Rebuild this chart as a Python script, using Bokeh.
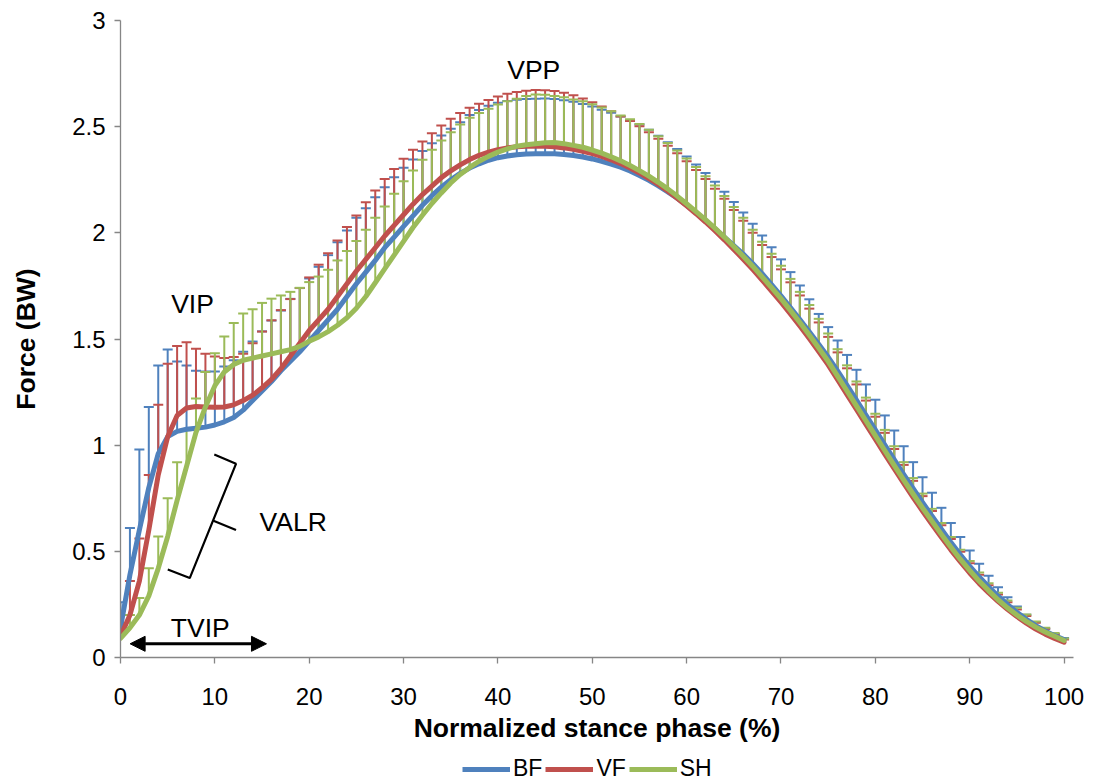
from bokeh.plotting import figure
from bokeh.layouts import column
from bokeh.models import (Range1d, FixedTicker, NumeralTickFormatter, ColumnDataSource, Whisker,
                          TeeHead, Legend, LegendItem, Label, Arrow, NormalHead)
from bokeh.embed import file_html
from bokeh.resources import INLINE

# ---------------- data ----------------
stance = list(range(101))

bf_mean = [0.14, 0.39, 0.60, 0.80, 0.96, 1.04, 1.065, 1.075, 1.08, 1.085,
           1.095, 1.11, 1.13, 1.165, 1.21, 1.255, 1.30, 1.35, 1.395, 1.44,
           1.49, 1.54, 1.59, 1.64, 1.70, 1.76, 1.815, 1.87, 1.93, 1.98,
           2.03, 2.08, 2.13, 2.175, 2.215, 2.25, 2.28, 2.305, 2.325, 2.342,
           2.354, 2.362, 2.368, 2.371, 2.373, 2.373, 2.372, 2.369, 2.364, 2.357,
           2.348, 2.337, 2.324, 2.309, 2.291, 2.27, 2.247, 2.221, 2.193, 2.163,
           2.13, 2.095, 2.058, 2.02, 1.98, 1.94, 1.90, 1.855, 1.808, 1.756,
           1.703, 1.648, 1.592, 1.534, 1.475, 1.415, 1.35, 1.282, 1.212, 1.142,
           1.072, 1.002, 0.932, 0.863, 0.796, 0.73, 0.667, 0.604, 0.543, 0.485,
           0.43, 0.38, 0.333, 0.29, 0.25, 0.213, 0.18, 0.15, 0.125, 0.103,
           0.085]
vf_mean = [0.10, 0.20, 0.36, 0.60, 0.86, 1.04, 1.14, 1.175, 1.182, 1.18,
           1.178, 1.18, 1.19, 1.21, 1.235, 1.27, 1.31, 1.36, 1.42, 1.48,
           1.54, 1.59, 1.64, 1.70, 1.76, 1.82, 1.875, 1.93, 1.985, 2.035,
           2.085, 2.135, 2.18, 2.22, 2.26, 2.292, 2.32, 2.345, 2.365, 2.38,
           2.392, 2.40, 2.405, 2.408, 2.409, 2.408, 2.405, 2.40, 2.393, 2.384,
           2.373, 2.36, 2.344, 2.326, 2.305, 2.282, 2.256, 2.228, 2.197, 2.163,
           2.127, 2.09, 2.051, 2.01, 1.967, 1.922, 1.876, 1.828, 1.778, 1.726,
           1.673, 1.618, 1.561, 1.502, 1.441, 1.378, 1.308, 1.238, 1.168, 1.098,
           1.028, 0.958, 0.889, 0.821, 0.754, 0.69, 0.627, 0.566, 0.507, 0.451,
           0.398, 0.349, 0.305, 0.264, 0.227, 0.193, 0.162, 0.134, 0.11, 0.09,
           0.072]
sh_mean = [0.09, 0.14, 0.20, 0.29, 0.42, 0.57, 0.74, 0.90, 1.06, 1.18,
           1.28, 1.345, 1.38, 1.40, 1.41, 1.42, 1.43, 1.44, 1.45, 1.465,
           1.49, 1.51, 1.535, 1.565, 1.60, 1.645, 1.70, 1.765, 1.83, 1.895,
           1.96, 2.025, 2.083, 2.138, 2.188, 2.235, 2.275, 2.308, 2.337, 2.36,
           2.38, 2.395, 2.408, 2.415, 2.42, 2.424, 2.425, 2.42, 2.412, 2.403,
           2.39, 2.375, 2.358, 2.339, 2.317, 2.293, 2.267, 2.238, 2.207, 2.173,
           2.137, 2.10, 2.062, 2.022, 1.98, 1.936, 1.89, 1.843, 1.793, 1.742,
           1.69, 1.635, 1.578, 1.519, 1.458, 1.395, 1.325, 1.255, 1.185, 1.115,
           1.045, 0.975, 0.905, 0.837, 0.77, 0.705, 0.642, 0.58, 0.52, 0.463,
           0.41, 0.36, 0.315, 0.272, 0.234, 0.20, 0.17, 0.143, 0.12, 0.10,
           0.08]

# mean + SD (upper end of each error bar)
bf_upper = [0.26, 0.61, 0.98, 1.18, 1.375, 1.45, 1.394, 1.375, 1.351, 1.347,
            1.347, 1.37, 1.40, 1.44, 1.488, 1.536, 1.587, 1.634, 1.689, 1.74,
            1.785, 1.84, 1.895, 1.956, 2.011, 2.071, 2.116, 2.168, 2.215, 2.262,
            2.306, 2.345, 2.385, 2.422, 2.458, 2.49, 2.521, 2.555, 2.579, 2.598,
            2.613, 2.621, 2.627, 2.63, 2.632, 2.633, 2.63, 2.625, 2.617, 2.607,
            2.595, 2.58, 2.565, 2.548, 2.53, 2.51, 2.485, 2.457, 2.427, 2.395,
            2.36, 2.322, 2.282, 2.24, 2.193, 2.145, 2.096, 2.043, 1.988, 1.932,
            1.875, 1.815, 1.752, 1.687, 1.618, 1.556, 1.493, 1.425, 1.355, 1.286,
            1.214, 1.14, 1.069, 0.995, 0.92, 0.849, 0.776, 0.705, 0.634, 0.567,
            0.504, 0.441, 0.385, 0.331, 0.284, 0.24, 0.201, 0.166, 0.135, 0.111,
            0.092]
vf_upper = [0.16, 0.36, 0.56, 0.86, 1.19, 1.383, 1.467, 1.485, 1.454, 1.43,
            1.418, 1.411, 1.415, 1.43, 1.48, 1.535, 1.588, 1.636, 1.688, 1.74,
            1.79, 1.85, 1.904, 1.964, 2.027, 2.082, 2.144, 2.199, 2.254, 2.301,
            2.349, 2.391, 2.43, 2.469, 2.505, 2.537, 2.564, 2.589, 2.608, 2.626,
            2.642, 2.655, 2.663, 2.669, 2.673, 2.672, 2.668, 2.66, 2.648, 2.633,
            2.615, 2.595, 2.573, 2.548, 2.527, 2.502, 2.474, 2.443, 2.41, 2.375,
            2.337, 2.296, 2.253, 2.208, 2.16, 2.108, 2.057, 2.00, 1.943, 1.886,
            1.828, 1.767, 1.705, 1.643, 1.578, 1.51, 1.437, 1.362, 1.286, 1.21,
            1.134, 1.058, 0.982, 0.907, 0.832, 0.76, 0.69, 0.623, 0.558, 0.498,
            0.444, 0.39, 0.34, 0.297, 0.26, 0.226, 0.196, 0.164, 0.135, 0.11,
            0.085]
sh_upper = [0.12, 0.20, 0.28, 0.42, 0.57, 0.75, 0.92, 1.07, 1.22, 1.344,
            1.433, 1.512, 1.575, 1.62, 1.64, 1.67, 1.69, 1.705, 1.722, 1.741,
            1.768, 1.794, 1.826, 1.87, 1.914, 1.961, 2.014, 2.071, 2.124, 2.184,
            2.243, 2.294, 2.344, 2.391, 2.435, 2.474, 2.51, 2.542, 2.564, 2.584,
            2.604, 2.62, 2.631, 2.645, 2.652, 2.65, 2.645, 2.638, 2.628, 2.62,
            2.606, 2.59, 2.573, 2.553, 2.535, 2.513, 2.486, 2.455, 2.423, 2.388,
            2.35, 2.31, 2.267, 2.223, 2.173, 2.122, 2.071, 2.015, 1.958, 1.902,
            1.845, 1.783, 1.722, 1.66, 1.595, 1.526, 1.452, 1.376, 1.30, 1.224,
            1.148, 1.072, 0.995, 0.92, 0.845, 0.772, 0.70, 0.633, 0.568, 0.508,
            0.455, 0.40, 0.35, 0.305, 0.268, 0.234, 0.203, 0.17, 0.14, 0.115,
            0.09]

series_names = ["BF", "VF", "SH"]
series_colors = ["#4F81BD", "#C0504D", "#9BBB59"]

x_ticks = [0, 10, 20, 30, 40, 50, 60, 70, 80, 90, 100]
y_ticks = [0, 0.5, 1, 1.5, 2, 2.5, 3]

# annotation texts and anchors (data units)
ann_text = ["VIP", "VPP", "VALR", "TVIP"]
ann_x = [7.63, 43.8, 18.3, 8.45]
ann_y = [1.667, 2.765, 0.637, 0.14]
valr_bracket_x = [9.94, 12.24, 7.34, 5.01]
valr_bracket_y = [0.956, 0.912, 0.374, 0.414]
valr_tick_x = [9.85, 12.24]
valr_tick_y = [0.644, 0.60]
tvip_x = [1.02, 15.47]
tvip_y = 0.0645

FONT = "Liberation Sans"
AXIS_GRAY = "#868686"
means = [bf_mean, vf_mean, sh_mean]
uppers = [bf_upper, vf_upper, sh_upper]

# ---------------- main figure ----------------
p = figure(width=1095, height=753, output_backend="svg", toolbar_location=None,
           x_range=Range1d(0, 101), y_range=Range1d(0, 3),
           min_border_left=120, min_border_right=22, min_border_top=20,
           min_border_bottom=96)
p.outline_line_color = None
p.grid.visible = False
p.background_fill_color = "white"
p.border_fill_color = "white"

xa = p.xaxis[0]
xa.ticker = FixedTicker(ticks=x_ticks)
xa.axis_label = "Normalized stance phase (%)"
ya = p.yaxis[0]
ya.ticker = FixedTicker(ticks=y_ticks)
ya.formatter = NumeralTickFormatter(format="0.[0]")
ya.axis_label = "Force (BW)"
for ax in (xa, ya):
    ax.axis_line_color = AXIS_GRAY
    ax.axis_line_width = 1.3
    ax.major_tick_line_color = AXIS_GRAY
    ax.major_tick_line_width = 1.3
    ax.major_tick_out = 6
    ax.major_tick_in = 0
    ax.minor_tick_line_color = None
    ax.major_label_text_font = FONT
    ax.major_label_text_font_size = "24px"
    ax.major_label_text_color = "black"
    ax.axis_label_text_font = FONT
    ax.axis_label_text_font_size = "26.5px"
    ax.axis_label_text_font_style = "bold"
    ax.axis_label_text_color = "black"
xa.major_label_standoff = 24
xa.axis_label_standoff = 5
ya.major_label_standoff = 9
ya.axis_label_standoff = 28

# error bars (upper only)
for m, u, c in zip(means, uppers, series_colors):
    src = ColumnDataSource(dict(x=stance, lower=m, upper=u))
    w = Whisker(source=src, base="x", lower="lower", upper="upper", dimension="height",
                line_color=c, line_width=2,
                upper_head=TeeHead(size=10, line_color=c, line_width=2),
                lower_head=None)
    p.add_layout(w)

# mean curves
for m, c in zip(means, series_colors):
    p.line(stance, m, line_color=c, line_width=5, line_join="round", line_cap="round")

# annotations
for t, xx, yy in zip(ann_text, ann_x, ann_y):
    p.add_layout(Label(x=xx, y=yy, text=t, text_align="center", text_baseline="middle",
                       text_font=FONT, text_font_size="26.5px", text_color="black"))
p.line(valr_bracket_x, valr_bracket_y, line_color="black", line_width=2.2)
p.line(valr_tick_x, valr_tick_y, line_color="black", line_width=2.2)
p.add_layout(Arrow(x_start=tvip_x[0], y_start=tvip_y, x_end=tvip_x[1], y_end=tvip_y,
                   line_color="black", line_width=3,
                   start=NormalHead(size=15, fill_color="black", line_color="black"),
                   end=NormalHead(size=15, fill_color="black", line_color="black")))

# ---------------- legend strip (below the chart) ----------------
# the same series are drawn here but outside the visible y-range; only the legend shows
leg = figure(width=1095, height=29, output_backend="svg", toolbar_location=None,
             x_range=Range1d(0, 101), y_range=Range1d(10, 11),
             x_axis_type=None, y_axis_type=None,
             min_border_left=120, min_border_right=22, min_border_top=0, min_border_bottom=0)
leg.outline_line_color = None
leg.grid.visible = False
leg_renderers = [leg.line(stance, m, line_color=c, line_width=5) for m, c in zip(means, series_colors)]
legend = Legend(items=[LegendItem(label=n, renderers=[r]) for n, r in zip(series_names, leg_renderers)],
                orientation="horizontal", location=(342, 0),
                label_text_font=FONT, label_text_font_size="23px", label_text_color="black",
                glyph_width=48, glyph_height=24, label_standoff=3, spacing=3,
                padding=0, margin=0, border_line_color=None, background_fill_alpha=0)
leg.add_layout(legend, "center")

layout = column(p, leg, spacing=0)
open("out.html", "w").write(file_html(layout, INLINE))
